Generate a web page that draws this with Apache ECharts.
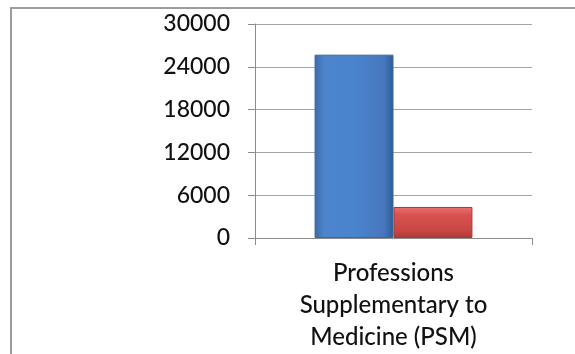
<!DOCTYPE html>
<html>
<head>
<meta charset="utf-8">
<script src="https://cdn.jsdelivr.net/npm/echarts@6/dist/echarts.min.js"></script>
<style>html,body{margin:0;padding:0;background:#fff;}#c{width:575px;height:354px;}</style>
</head>
<body>
<div id="c"></div>
<script>
const categories = ['Professions\nSupplementary to\nMedicine (PSM)'];
const seriesA = [25700];
const seriesB = [4350];
const yTicks = { min: 0, max: 30000, interval: 6000 };

const chart = echarts.init(document.getElementById('c'), null, { renderer: 'canvas' });
const font = 'Lato, "Open Sans", sans-serif';
chart.setOption({
  animation: false,
  backgroundColor: '#ffffff',
  graphic: [{
    type: 'rect', silent: true, z: -1,
    shape: { x: 11, y: 8, width: 700, height: 500 },
    style: { fill: 'none', stroke: '#9c9c9c', lineWidth: 2 }
  }],
  grid: { left: 255, right: 43, top: 24, bottom: 116 },
  xAxis: {
    type: 'category', data: categories,
    axisLine: { show: true, lineStyle: { color: '#8c8c8c', width: 1 } },
    axisTick: { show: true, length: 7, alignWithLabel: false, lineStyle: { color: '#8c8c8c' } },
    axisLabel: { color: '#111', fontFamily: font, fontWeight: 500, fontSize: 24, lineHeight: 32, margin: 19, align: 'center' }
  },
  yAxis: {
    type: 'value', min: yTicks.min, max: yTicks.max, interval: yTicks.interval,
    axisLine: { show: true, lineStyle: { color: '#8c8c8c', width: 1 } },
    axisTick: { show: true, length: 7, lineStyle: { color: '#8c8c8c' } },
    splitLine: { show: true, lineStyle: { color: '#a6a6a6', width: 1 } },
    axisLabel: { color: '#111', fontFamily: font, fontWeight: 500, fontSize: 23, margin: 25, formatter: v => String(v) }
  },
  series: [
    {
      type: 'bar', data: seriesA, barGap: '0%', barCategoryGap: '43%',
      itemStyle: {
        color: new echarts.graphic.LinearGradient(0, 0, 1, 0, [
          { offset: 0, color: '#3c6aa6' },
          { offset: 0.12, color: '#4d85cc' },
          { offset: 0.5, color: '#4a84cf' },
          { offset: 0.88, color: '#4677bd' },
          { offset: 1, color: '#2f5c94' }
        ]),
        borderColor: '#3a67a0', borderWidth: 1
      }
    },
    {
      type: 'bar', data: seriesB,
      itemStyle: {
        color: new echarts.graphic.LinearGradient(0, 0, 0, 1, [
          { offset: 0, color: '#e87370' },
          { offset: 0.25, color: '#d9524f' },
          { offset: 0.75, color: '#c94844' },
          { offset: 1, color: '#a83a37' }
        ]),
        borderColor: '#a83a37', borderWidth: 1
      }
    }
  ]
});
</script>
</body>
</html>
